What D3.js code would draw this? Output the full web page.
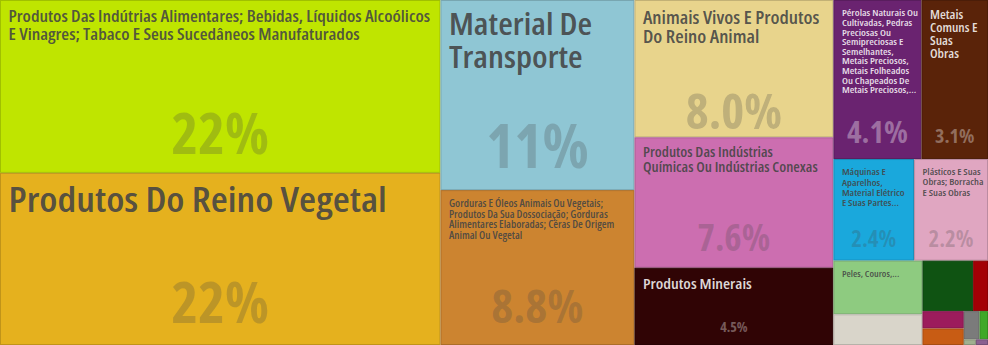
<!DOCTYPE html>
<html><head><meta charset="utf-8">
<script src="https://cdn.jsdelivr.net/npm/d3@7"></script>
<style>
body{margin:0;background:#fff}
svg{display:block}
text{font-family:"Open Sans","Noto Sans",sans-serif;font-stretch:75%;}
</style>
</head><body>
<svg id="chart" width="988" height="345"></svg>
<script>
// ---- DATA ----
// "\n" marks where the reference chart breaks a label line
const categories = [
  "Produtos Das Indútrias Alimentares; Bebidas, Líquidos Alcoólicos E Vinagres; Tabaco E Seus Sucedâneos Manufaturados",
  "Produtos Do Reino Vegetal",
  "Material De Transporte",
  "Gorduras E Óleos Animais Ou Vegetais; Produtos Da Sua Dossociação; Gorduras Alimentares Elaboradas; Céras De Origem Animal Ou Vegetal",
  "Animais Vivos E Produtos Do Reino Animal",
  "Produtos Das Indústrias Químicas Ou Indústrias Conexas",
  "Produtos Minerais",
  "Pérolas Naturais Ou\nCultivadas, Pedras\nPreciosas Ou\nSemipreciosas E\nSemelhantes,\nMetais Preciosos,\nMetais Folheados\nOu Chapeados De\nMetais Preciosos,...",
  "Metais Comuns E Suas Obras",
  "Máquinas E Aparelhos, Material Elétrico E Suas Partes...",
  "Plásticos E Suas\nObras; Borracha\nE Suas Obras",
  "Peles, Couros,...",
  "Matérias Têxteis E Suas Obras",
  "Pastas De Madeira; Papel E Suas Obras",
  "Calçados, Chapéus E Artefatos Semelhantes",
  "Instrumentos E Aparelhos De Óptica",
  "Obras De Pedra, Gesso, Cimento, Cerâmica, Vidro",
  "Mercadorias E Produtos Diversos",
  "Madeira, Carvão Vegetal E Obras De Madeira",
  "Armas E Munições",
  "Objetos De Arte"
];
const values = [22.3, 22.2, 10.8, 8.8, 8.0, 7.6, 4.5, 4.1, 3.1, 2.4, 2.2, 1.4, 0.8, 0.75, 0.22, 0.21, 0.2, 0.13, 0.07, 0.02, 0.02];

// ---- STYLE ----
const palette = ["#bfe500","#e5b11e","#8fc6d4","#cc8430","#e8d48c","#cc6eb0","#300405","#6a2370","#5a2309","#1aa8dc","#e0a6c1","#8ecb80","#d9d5ca","#0f5312","#a30005","#9c1c5c","#c85c14","#7b7b7b","#40a828","#a0b090","#8a6090"];
// title font size, percent font size, percent bottom offset, light text, optional text-box width, optional line-height factor
const labelStyle = [
  [16, 57, 19, false],
  [35, 57, 22, false],
  [30, 60, 22, false],
  [9.8, 47, 22, false],
  [17.3, 49, 8, false],
  [13.4, 37, 17, false],
  [14.5, 14, 13, true],
  [9.4, 31, 16, true, 84, 1.02],
  [12, 20, 16, true, 50.5],
  [9.3, 23, 14, false],
  [9.2, 23, 14, false, 66],
  [8.8, 0, 0, false]
];
const WIDEN = 1.12; // horizontal stretch of title lettering

const W = 988, H = 345;
const svg = d3.select("#chart");
const items = categories.map((c, i) => ({name: c, value: values[i], color: palette[i], style: labelStyle[i] || null}));
const root = d3.hierarchy({children: items}).sum(d => d.value || 0).sort((a, b) => b.value - a.value);
d3.treemap().size([W, H]).tile(d3.treemapSquarify)(root);
const total = root.value;
const fmt = v => { const p = v / total * 100; return (p >= 10 ? d3.format(".0f")(p) : d3.format(".1f")(p)) + "%"; };

const measurer = svg.append("text").attr("font-weight", 600).attr("visibility", "hidden");
function measure(str, size) { measurer.attr("font-size", size).text(str); return measurer.node().getComputedTextLength(); }
function wrap(str, size, maxW) {
  const lines = [];
  str.split("\n").forEach(seg => {
    const words = seg.split(/\s+/); let cur = "";
    words.forEach(w => {
      const t = cur ? cur + " " + w : w;
      if (cur && measure(t, size) > maxW) { lines.push(cur); cur = w; } else cur = t;
    });
    if (cur) lines.push(cur);
  });
  return lines;
}

const cell = svg.selectAll("g.cell").data(root.leaves()).join("g").attr("class", "cell");
cell.append("rect")
  .attr("x", d => d.x0 + 0.5).attr("y", d => d.y0 + 0.5)
  .attr("width", d => Math.max(0, d.x1 - d.x0 - 1)).attr("height", d => Math.max(0, d.y1 - d.y0 - 1))
  .attr("fill", d => d.data.color)
  .attr("stroke", d => d3.color(d.data.color).darker(0.5)).attr("stroke-width", 1);

cell.filter(d => d.data.style).each(function(d) {
  const g = d3.select(this);
  const [ts, ps, pb, light, boxW, lhf] = d.data.style;
  const padL = 8.5, padR = 9;
  const avail = boxW || (d.x1 - d.x0 - padL - padR);
  const lh = ts * (lhf || 1.1);
  const lines = wrap(d.data.name, ts, avail / WIDEN);
  const t = g.append("g").attr("transform", `translate(${d.x0 + padL},0) scale(${WIDEN},1)`)
    .append("text")
    .attr("font-size", ts).attr("font-weight", 600)
    .attr("fill", light ? "#fff" : "#444").attr("fill-opacity", light ? 0.85 : 0.9);
  lines.forEach((l, i) => {
    t.append("tspan").attr("x", 0).attr("y", d.y0 + 8 + ts * 0.9 + i * lh).text(l);
  });
  if (ps > 0) {
    g.append("text")
      .attr("x", (d.x0 + d.x1) / 2).attr("y", d.y1 - pb)
      .attr("text-anchor", "middle").attr("font-size", ps).attr("font-weight", 700)
      .attr("fill", light ? "#fff" : "#444").attr("fill-opacity", light ? 0.35 : 0.25)
      .text(fmt(d.value));
  }
});
measurer.remove();
</script>
</body></html>
